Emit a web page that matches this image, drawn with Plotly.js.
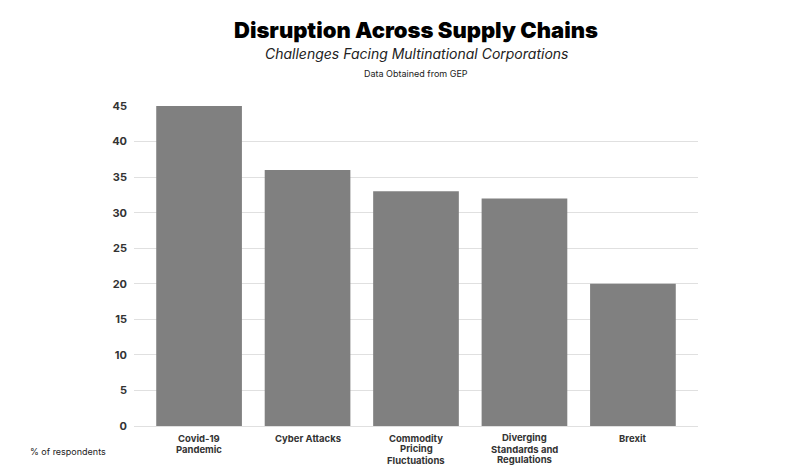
<!DOCTYPE html>
<html>
<head>
<meta charset="utf-8">
<script src="https://cdn.plot.ly/plotly-3.0.1.min.js"></script>
<style>html,body{margin:0;padding:0;background:#fff;}#chart{width:809px;height:465px;}</style>
</head>
<body>
<div id="chart"></div>
<script>
var categories = ["Covid-19\nPandemic", "Cyber Attacks", "Commodity\nPricing\nFluctuations", "Diverging\nStandards and\nRegulations", "Brexit"];
var values = [45, 36, 33, 32, 20];
var yTicks = [0, 5, 10, 15, 20, 25, 30, 35, 40, 45];

var trace = {
  type: "bar",
  x: categories.map(function(c, i){ return i; }),
  y: values,
  marker: {color: "#808080", line: {width: 0}},
  hoverinfo: "y"
};

var annotations = [
  {text: "Disruption Across Supply Chains", xref: "paper", yref: "paper", x: 0.5, y: 1, yshift: 76, xanchor: "center", yanchor: "middle", showarrow: false,
   font: {family: "Inter, sans-serif", size: 22, color: "#000", weight: 900}},
  {text: "<i>Challenges Facing Multinational Corporations</i>", xref: "paper", yref: "paper", x: 0.5, y: 1, yshift: 53, xanchor: "center", yanchor: "middle", showarrow: false,
   font: {family: "Inter, sans-serif", size: 14, color: "#222"}},
  {text: "Data Obtained from GEP", xref: "paper", yref: "paper", x: 0.5, y: 1, yshift: 33, xanchor: "center", yanchor: "middle", showarrow: false,
   font: {family: "Inter, sans-serif", size: 9, color: "#222"}},
  {text: "% of respondents", xref: "paper", yref: "paper", x: 0, xshift: -106, y: 0, yshift: -25, xanchor: "left", yanchor: "middle", showarrow: false,
   font: {family: "Inter, sans-serif", size: 9, color: "#222"}}
];

categories.forEach(function(c, i){
  c.split("\n").forEach(function(line, k){
    annotations.push({
      text: line, xref: "x", yref: "paper", x: i, y: 0, yshift: -12 - k * 11,
      xanchor: "center", yanchor: "middle", showarrow: false, borderpad: 0,
      font: {family: "Inter, sans-serif", size: 9.5, color: "#333", weight: 700}
    });
  });
});

var layout = {
  width: 809, height: 465,
  margin: {l: 134, r: 111, t: 106, b: 39},
  paper_bgcolor: "#fff", plot_bgcolor: "#fff",
  bargap: 0.21,
  showlegend: false,
  font: {family: "Inter, 'Open Sans', sans-serif", color: "#333"},
  xaxis: {
    range: [-0.6, 4.6],
    tickmode: "array",
    tickvals: [0, 1, 2, 3, 4],
    showticklabels: false,
    showgrid: false, zeroline: false, showline: false,
    ticks: ""
  },
  yaxis: {
    range: [0, 45],
    tickmode: "array",
    tickvals: yTicks,
    ticktext: yTicks.map(String),
    tickfont: {size: 11, color: "#333", weight: 700},
    showgrid: true, gridcolor: "#e0e0e0", gridwidth: 1,
    zeroline: true, zerolinecolor: "#e0e0e0", zerolinewidth: 1,
    showline: false, ticks: "", ticklabelstandoff: 6
  },
  annotations: annotations
};

Plotly.newPlot("chart", [trace], layout, {displayModeBar: false, staticPlot: true});
</script>
</body>
</html>
